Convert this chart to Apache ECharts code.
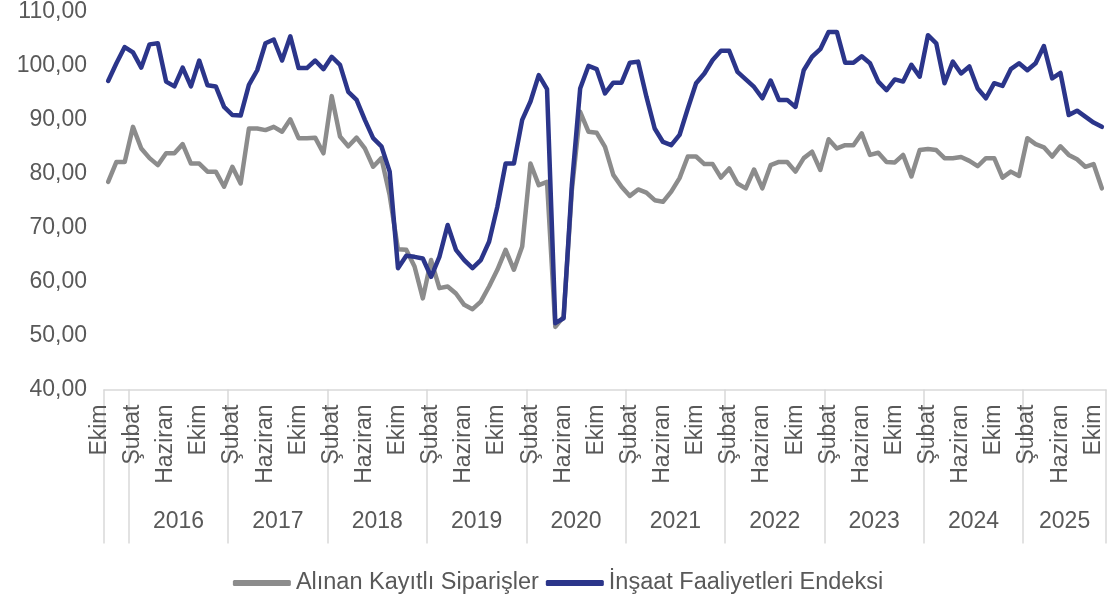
<!DOCTYPE html>
<html>
<head>
<meta charset="utf-8">
<script src="https://cdn.jsdelivr.net/npm/echarts@6/dist/echarts.min.js"></script>
<style>
  html, body { margin: 0; padding: 0; background: #fff; }
  #chart { width: 1116px; height: 597px; }
</style>
</head>
<body>
<div id="chart"></div>
<script>
// months Ekim 2015 .. Ekim 2025
const monthNames = ['Ocak', 'Şubat', 'Mart', 'Nisan', 'Mayıs', 'Haziran', 'Temmuz', 'Ağustos', 'Eylül', 'Ekim', 'Kasım', 'Aralık']
const startYear = 2015
const startMonth = 9
const monthCount = 121
const yearLabels = ['2016', '2017', '2018', '2019', '2020', '2021', '2022', '2023', '2024', '2025']
const yTicks = [40, 50, 60, 70, 80, 90, 100, 110]

const siparisler = [
  78.5, 82.2, 82.2, 88.7, 84.7, 82.9, 81.6, 83.8, 83.8, 85.5, 81.9, 81.9, 80.4, 80.4, 77.6, 81.3, 78.2, 88.4, 88.4, 88.1,
  88.7, 87.8, 90.1, 86.6, 86.6, 86.7, 83.8, 94.4, 86.9, 85.1, 86.7, 84.7, 81.3, 82.9, 76.0, 66.0, 65.9, 62.8, 56.9, 64.0,
  58.8, 59.1, 57.8, 55.7, 54.9, 56.3, 59.1, 62.2, 65.9, 62.2, 66.5, 81.9, 77.9, 78.5, 51.6, 53.5, 77.0, 91.5, 87.8, 87.6,
  85.0, 79.8, 77.6, 75.9, 77.1, 76.5, 75.1, 74.8, 76.7, 79.2, 83.2, 83.2, 81.8, 81.8, 79.3, 81.0, 78.2, 77.3, 80.8, 77.3,
  81.6, 82.2, 82.2, 80.4, 82.9, 84.1, 80.7, 86.4, 84.7, 85.3, 85.3, 87.5, 83.5, 83.9, 82.2, 82.1, 83.5, 79.5, 84.4, 84.6,
  84.4, 82.9, 82.9, 83.1, 82.4, 81.4, 82.9, 82.9, 79.3, 80.4, 79.6, 86.6, 85.5, 84.9, 83.2, 85.1, 83.5, 82.7, 81.3, 81.8, 77.3
]
const faaliyet = [
  97.2, 100.5, 103.5, 102.5, 99.7, 104.0, 104.2, 97.1, 96.2, 99.7, 96.2, 101.0, 96.4, 96.2, 92.4, 90.9, 90.8, 96.5, 99.2, 104.2,
  104.9, 101.0, 105.5, 99.6, 99.6, 101.0, 99.4, 101.7, 100.2, 95.2, 93.7, 90.0, 86.6, 85.1, 80.4, 62.5, 64.8, 64.6, 64.3, 60.9,
  64.6, 70.5, 65.9, 64.0, 62.5, 64.0, 67.4, 73.9, 81.9, 81.9, 90.0, 93.4, 98.3, 95.7, 52.3, 53.2, 78.0, 95.8, 100.0, 99.4,
  94.9, 96.9, 96.9, 100.6, 100.8, 94.3, 88.4, 85.9, 85.3, 87.2, 92.1, 96.8, 98.6, 101.1, 102.8, 102.8, 98.9, 97.5, 96.1, 94.0,
  97.3, 93.7, 93.7, 92.4, 99.2, 101.7, 103.1, 106.3, 106.3, 100.6, 100.6, 101.8, 100.5, 97.1, 95.5, 97.5, 97.1, 100.2, 98.0, 105.7,
  104.2, 96.8, 100.8, 98.6, 99.9, 95.8, 94.0, 96.8, 96.3, 99.4, 100.5, 99.2, 100.5, 103.7, 97.7, 98.7, 90.9, 91.7, 90.6, 89.5, 88.7
]

const categories = []
for (let i = 0; i < monthCount; i++) {
  categories.push(monthNames[(startMonth + i) % 12])
}
// year boundaries / centres in category units
const yearBounds = [0]
const yearCenters = []
let b = 12 - startMonth
yearLabels.forEach(() => {
  yearBounds.push(b)
  const end = Math.min(b + 12, monthCount)
  yearCenters.push((b + end) / 2)
  b += 12
})
yearBounds.push(monthCount)

const FONT = 'Liberation Sans, Arial, sans-serif'
const TXT = '#595959'
const AXIS = '#d9d9d9'

const myChart = echarts.init(document.getElementById('chart'))
const option = {
  animation: false,
  grid: { left: 104, right: 10, top: 12, bottom: 207.5 },
  legend: {
    top: 566,
    left: 'center',
    icon: 'roundRect',
    itemWidth: 58,
    itemHeight: 6,
    itemGap: 7,
    textStyle: { fontFamily: FONT, fontSize: 23.5, color: TXT },
    data: ['Alınan Kayıtlı Siparişler', 'İnşaat Faaliyetleri Endeksi']
  },
  xAxis: [
    {
      type: 'category',
      position: 'bottom',
      data: categories,
      boundaryGap: true,
      axisLine: { show: false },
      axisTick: { show: false },
      axisLabel: {
        interval: 3,
        rotate: 90,
        margin: 15,
        verticalAlign: 'bottom',
        lineHeight: 17,
        fontFamily: FONT,
        fontSize: 23,
        color: TXT
      }
    },
    {
      type: 'value',
      position: 'bottom',
      min: 0,
      max: monthCount,
      splitLine: { show: false },
      axisLine: { show: true, lineStyle: { color: AXIS, width: 1.5 } },
      axisTick: {
        show: true,
        customValues: yearBounds,
        length: 154,
        lineStyle: { color: AXIS, width: 1.5 }
      },
      axisLabel: {
        customValues: yearCenters,
        margin: 121,
        fontFamily: FONT,
        fontSize: 23,
        color: TXT,
        formatter: function (v) {
          const idx = yearCenters.indexOf(v)
          return idx >= 0 ? yearLabels[idx] : ''
        }
      }
    }
  ],
  yAxis: {
    type: 'value',
    min: yTicks[0],
    max: yTicks[yTicks.length - 1],
    interval: 10,
    splitLine: { show: false },
    axisLine: { show: false },
    axisTick: { show: false },
    axisLabel: {
      margin: 17,
      fontFamily: FONT,
      fontSize: 23,
      color: TXT,
      formatter: function (v) {
        return v.toFixed(2).replace('.', ',')
      }
    }
  },
  series: [
    {
      name: 'Alınan Kayıtlı Siparişler',
      type: 'line',
      xAxisIndex: 0,
      data: siparisler,
      color: '#8c8c8c',
      symbol: 'none',
      lineStyle: { width: 4.5, cap: 'round', join: 'round' }
    },
    {
      name: 'İnşaat Faaliyetleri Endeksi',
      type: 'line',
      xAxisIndex: 0,
      data: faaliyet,
      color: '#2b358a',
      symbol: 'none',
      lineStyle: { width: 4.5, cap: 'round', join: 'round' }
    }
  ]
}
myChart.setOption(option)
</script>
</body>
</html>
